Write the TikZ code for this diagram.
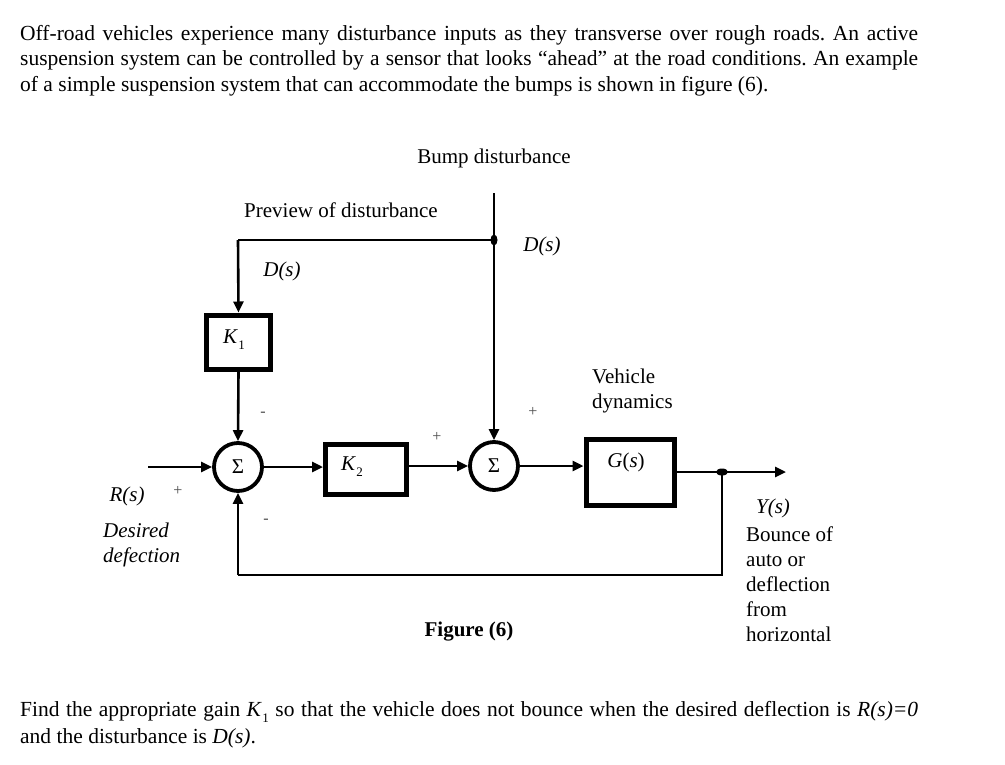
\documentclass[tikz,border=0pt]{standalone}
\usepackage{fontspec}
\setmainfont{Liberation Serif}
\usetikzlibrary{arrows.meta,shapes.geometric}
\newcommand{\subone}[1]{\kern0.5pt\raisebox{-0.28em}{\fontsize{13}{13}\selectfont #1}}
\frenchspacing
\begin{document}
\begin{tikzpicture}[x=1pt,y=-1pt,
  blk/.style={draw, line width=5pt, inner sep=0pt},
  sumn/.style={draw, circle, line width=3.8pt, minimum size=48pt, inner sep=0pt, font=\fontsize{21}{21}\selectfont},
  conn/.style={line width=2.6pt},
  arr/.style={conn, -{Triangle[length=11pt,width=10pt]}},
  lbl/.style={font=\fontsize{21}{25}\selectfont, inner sep=0pt},
  ilbl/.style={font=\fontsize{21}{25}\selectfont\itshape, inner sep=0pt},
  sgn/.style={font=\fontsize{16}{16}\selectfont, inner sep=0pt, text=black!70},
  para/.style={font=\fontsize{21.5}{25}\selectfont, inner sep=0pt, anchor=base west},
  dotn/.style={fill, ellipse, minimum width=7pt, minimum height=11pt, inner sep=0pt, draw=none}
]
\useasboundingbox[fill=white] (0,0) rectangle (1005,764);

% top paragraph
\node[para] (p1) at (20,40) {\makebox[898pt][s]{Off-road vehicles experience many disturbance inputs as they transverse over rough roads. An active}};
\node[para] (p2) at (20,65) {\makebox[898pt][s]{suspension system can be controlled by a sensor that looks ``ahead'' at the road conditions. An example}};
\node[para] (p3) at (20,91) {of a simple suspension system that can accommodate the bumps is shown in figure (6).};

% blocks
\node[blk, minimum width=64pt, minimum height=54pt] (k1) at (238.5,342) {};
\node[lbl] (k1l) at (234,340) {\textit{K}\subone{1}};
\node[blk, minimum width=81pt, minimum height=50pt] (k2) at (366,469) {};
\node[lbl] (k2l) at (352,467) {\textit{K}\subone{2}};
\node[blk, minimum width=88pt, minimum height=66pt] (g) at (630,472) {};
\node[lbl] (gl) at (626,462) {\textit{G}(\textit{s})};

\node[sumn] (s1) at (238,467) {Σ};
\node[sumn] (s2) at (494,466) {Σ};

% coordinates
\coordinate (bump) at (494,193);
\coordinate (jd) at (494,240);
\coordinate (pc) at (238,240);
\coordinate (rin) at (148,467);
\coordinate (jy) at (722,472);
\coordinate (yout) at (786,472);
\coordinate (fb1) at (722,575);
\coordinate (fb2) at (238,575);

% connectors
\draw[arr] (bump) -- (s2.north);
\draw[conn] (jd) -- (pc);
\draw[arr] (pc) -- (k1.north);
\draw[arr] (k1.south) -- (s1.north);
\draw[arr] (rin) -- (s1.west);
\draw[arr] (s1.east) -- (k2.west |- s1.east);
\draw[arr] (k2.east |- s2.west) -- (s2.west);
\draw[arr] (s2.east) -- (g.west |- s2.east);
\draw[arr] (g.east |- jy) -- (yout);
\draw[conn] (jy) -- (fb1) -- (fb2);
\draw[arr] (fb2) -- (s1.south);
\node[dotn] (jdot) at (jd) {};
\node[dotn, minimum width=12pt, minimum height=7pt] (ydot) at (jy) {};

% labels
\node[lbl] (bd) at (494,158) {Bump disturbance};
\node[lbl] (pd) at (341,210) {Preview of disturbance};
\node[ilbl] (d1) at (282,271) {D(s)};
\node[ilbl] (d2) at (542,246) {D(s)};
\node[sgn] (m1) at (263,414) {-};
\node[sgn] (pl1) at (178,491) {+};
\node[sgn] (m2) at (266,521) {-};
\node[sgn] (pl2) at (437,437) {+};
\node[sgn] (pl3) at (533,412) {+};
\node[lbl, align=left, anchor=west] (vd) at (592,391) {Vehicle\\dynamics};
\node[ilbl] (rs) at (127,496) {R(s)};
\node[ilbl, align=left, anchor=west] (dd) at (103,545) {Desired\\defection};
\node[ilbl] (ys) at (773,508) {Y(s)};
\node[lbl, align=left, anchor=north west] (bo) at (746,527) {Bounce of\\auto or\\deflection\\from\\horizontal};
\node[lbl, font=\fontsize{21}{25}\selectfont\bfseries] (fig) at (469,632) {Figure (6)};

% bottom paragraph
\node[para] (q1) at (20,716) {\makebox[898pt][s]{Find the appropriate gain \textit{K}\subone{1} so that the vehicle does not bounce when the desired deflection is \textit{R(s)=0}}};
\node[para] (q2) at (20,743) {and the disturbance is \textit{D(s)}.};
\end{tikzpicture}
\end{document}
